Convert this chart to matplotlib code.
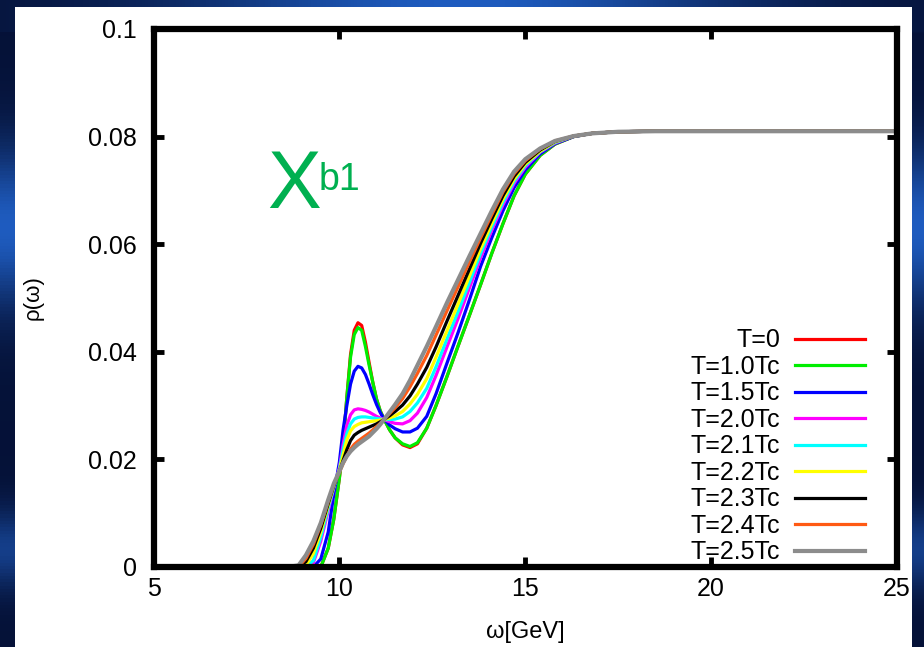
import numpy as np
import matplotlib
matplotlib.use("Agg")
import matplotlib.pyplot as plt
from matplotlib.patches import Rectangle

plt.rcParams["font.family"] = ["Liberation Sans", "DejaVu Sans"]

# omega grid [GeV] and spectral functions
omega = [8.6, 8.9, 9.1, 9.3, 9.5, 9.7, 9.85, 10.0, 10.1, 10.2, 10.3, 10.4, 10.5,
         10.6, 10.7, 10.8, 10.9, 11.0, 11.1, 11.2, 11.35, 11.5, 11.7, 11.9, 12.1,
         12.35, 12.6, 12.9, 13.2, 13.5, 13.8, 14.1, 14.4, 14.7, 15.0, 15.4, 15.8,
         16.3, 16.8, 17.5, 18.5, 20.0, 25.0]

rho_T0 = [0, 0, 0, 0, 0, 0.0035, 0.0089, 0.0165, 0.0225, 0.0315, 0.0395, 0.0440, 0.0454,
          0.0449, 0.0418, 0.0380, 0.0343, 0.0312, 0.0290, 0.0275, 0.0255, 0.0240, 0.0227,
          0.0222, 0.0229, 0.0258, 0.0300, 0.0355, 0.0412, 0.0468, 0.0525, 0.0583, 0.0638,
          0.0690, 0.0730, 0.0765, 0.0786, 0.0800, 0.0806, 0.0809, 0.0810, 0.0810, 0.0810]
rho_T10 = [0, 0, 0, 0, 0, 0.0035, 0.0089, 0.0165, 0.0225, 0.0315, 0.0390, 0.0432, 0.0445,
           0.0440, 0.0410, 0.0375, 0.0343, 0.0312, 0.0290, 0.0275, 0.0255, 0.0240, 0.0229,
           0.0224, 0.0231, 0.0258, 0.0300, 0.0355, 0.0412, 0.0468, 0.0525, 0.0583, 0.0638,
           0.0690, 0.0730, 0.0765, 0.0786, 0.0800, 0.0806, 0.0809, 0.0810, 0.0810, 0.0810]
rho_T15 = [0, 0, 0, 0, 0.0015, 0.0065, 0.0135, 0.0195, 0.0255, 0.0300, 0.0340, 0.0364, 0.0373,
           0.0370, 0.0358, 0.0340, 0.0320, 0.0302, 0.0287, 0.0275, 0.0264, 0.0257, 0.0251,
           0.0251, 0.0258, 0.0280, 0.0322, 0.0380, 0.0437, 0.0497, 0.0559, 0.0612, 0.0662,
           0.0705, 0.0738, 0.0768, 0.0787, 0.0800, 0.0806, 0.0809, 0.0810, 0.0810, 0.0810]
rho_T20 = [0, 0, 0, 0.0008, 0.0048, 0.0105, 0.0148, 0.0184, 0.0228, 0.0263, 0.0283, 0.0292, 0.0294,
           0.0293, 0.0291, 0.0288, 0.0284, 0.0280, 0.0277, 0.0274, 0.0270, 0.0267, 0.0266,
           0.0272, 0.0286, 0.0315, 0.0356, 0.0410, 0.0463, 0.0519, 0.0575, 0.0626, 0.0673,
           0.0713, 0.0743, 0.0771, 0.0788, 0.0801, 0.0806, 0.0809, 0.0810, 0.0810, 0.0810]
rho_T21 = [0, 0, 0, 0.0012, 0.0055, 0.0110, 0.0148, 0.0182, 0.0218, 0.0248, 0.0266, 0.0275, 0.0278,
           0.0279, 0.0279, 0.0278, 0.0277, 0.0276, 0.0275, 0.0274, 0.0274, 0.0275, 0.0279,
           0.0289, 0.0305, 0.0332, 0.0372, 0.0425, 0.0476, 0.0529, 0.0583, 0.0632, 0.0678,
           0.0717, 0.0746, 0.0772, 0.0789, 0.0801, 0.0806, 0.0809, 0.0810, 0.0810, 0.0810]
rho_T22 = [0, 0, 0.0003, 0.0025, 0.0065, 0.0115, 0.0150, 0.0180, 0.0208, 0.0236, 0.0253, 0.0261, 0.0265,
           0.0268, 0.0269, 0.0270, 0.0271, 0.0272, 0.0273, 0.0274, 0.0277, 0.0281, 0.0289,
           0.0303, 0.0321, 0.0350, 0.0390, 0.0440, 0.0490, 0.0541, 0.0592, 0.0639, 0.0684,
           0.0721, 0.0749, 0.0773, 0.0790, 0.0801, 0.0806, 0.0809, 0.0810, 0.0810, 0.0810]
rho_T23 = [0, 0, 0.0010, 0.0035, 0.0072, 0.0118, 0.0151, 0.0178, 0.0198, 0.0218, 0.0235, 0.0245, 0.0250,
           0.0254, 0.0257, 0.0260, 0.0263, 0.0266, 0.0270, 0.0274, 0.0281, 0.0289, 0.0301,
           0.0318, 0.0340, 0.0371, 0.0409, 0.0458, 0.0506, 0.0554, 0.0602, 0.0647, 0.0690,
           0.0726, 0.0752, 0.0775, 0.0791, 0.0801, 0.0806, 0.0809, 0.0810, 0.0810, 0.0810]
rho_T24 = [0, 0, 0.0016, 0.0042, 0.0078, 0.0122, 0.0153, 0.0176, 0.0192, 0.0206, 0.0219, 0.0228, 0.0234,
           0.0239, 0.0244, 0.0249, 0.0255, 0.0261, 0.0267, 0.0274, 0.0285, 0.0296, 0.0313,
           0.0335, 0.0360, 0.0393, 0.0431, 0.0477, 0.0522, 0.0567, 0.0612, 0.0655, 0.0697,
           0.0731, 0.0755, 0.0777, 0.0792, 0.0801, 0.0806, 0.0809, 0.0810, 0.0810, 0.0810]
rho_T25 = [0, 0.0003, 0.0022, 0.0048, 0.0082, 0.0125, 0.0155, 0.0178, 0.0194, 0.0206, 0.0215, 0.0222, 0.0228,
           0.0233, 0.0238, 0.0243, 0.0250, 0.0257, 0.0265, 0.0274, 0.0288, 0.0302, 0.0322,
           0.0347, 0.0375, 0.0410, 0.0447, 0.0492, 0.0535, 0.0578, 0.0620, 0.0662, 0.0702,
           0.0735, 0.0758, 0.0778, 0.0792, 0.0801, 0.0806, 0.0809, 0.0810, 0.0810, 0.0810]

labels = ["T=0", "T=1.0Tc", "T=1.5Tc", "T=2.0Tc", "T=2.1Tc",
          "T=2.2Tc", "T=2.3Tc", "T=2.4Tc", "T=2.5Tc"]
series = [rho_T0, rho_T10, rho_T15, rho_T20, rho_T21, rho_T22, rho_T23, rho_T24, rho_T25]
colors = ["#ff0000", "#00ee00", "#0000ff", "#ff00ff", "#00ffff",
          "#ffff00", "#000000", "#ff5a14", "#8c8c8c"]

fig = plt.figure(figsize=(9.24, 6.47), dpi=100)

# slide background (blue) + white panel
yy, xx = np.mgrid[0:1:200j, 0:1:300j]
glow = np.exp(-((xx - 0.5) / 0.3) ** 2) * (yy < 0.05) \
    + np.exp(-((yy - 0.35) / 0.12) ** 2) + 0.6 * np.exp(-((yy - 0.85) / 0.06) ** 2)
glow = np.clip(glow, 0, 1)
dark = np.array([0.02, 0.07, 0.22])
light = np.array([0.12, 0.36, 0.75])
img = dark + glow[..., None] * (light - dark)

bg = fig.add_axes([0, 0, 1, 1], zorder=-10)
bg.imshow(img, extent=[0, 1, 0, 1], aspect="auto", origin="upper")
bg.set_axis_off()
fig.patches.append(Rectangle((15 / 924, 0), (912 - 15) / 924, (647 - 7) / 647,
                             transform=fig.transFigure, facecolor="white",
                             edgecolor="none", zorder=-5))

ax = fig.add_axes([153.5 / 924, 80 / 647, 743.5 / 924, 538 / 647])
ax.set_facecolor("white")

for rho, lab, col in zip(series, labels, colors):
    lw = 3.0 if col == "#8c8c8c" else 2.3
    ax.plot(omega, rho, color=col, lw=lw, label=lab, solid_joinstyle="round")

ax.set_xlim(5, 25)
ax.set_ylim(0, 0.1)
ax.set_xticks([5, 10, 15, 20, 25])
ax.set_yticks([0, 0.02, 0.04, 0.06, 0.08, 0.1])
ax.set_yticklabels(["0", "0.02", "0.04", "0.06", "0.08", "0.1"])
for s in ax.spines.values():
    s.set_linewidth(4.5)
ax.tick_params(direction="in", length=7, width=3.5, top=True, right=True,
               labelsize=18, colors="black")
ax.tick_params(axis="x", pad=7)
ax.tick_params(axis="y", pad=12)

ax.set_xlabel("ω[GeV]", fontsize=17)
ax.set_ylabel("ρ(ω)", fontsize=16)
ax.xaxis.set_label_coords(0.5, -0.1)
ax.yaxis.set_label_coords(-0.148, 0.5)

leg = ax.legend(loc="lower right", bbox_to_anchor=(0.957, 0.005), frameon=False,
                markerfirst=False, fontsize=18, handlelength=2.8, handletextpad=0.6,
                labelspacing=0.1, borderaxespad=0, borderpad=0)

fig.text(267 / 924, 1 - 208 / 647, "Χ", fontsize=58, color="#00b050",
         family=["Liberation Sans Narrow", "Liberation Sans", "DejaVu Sans"])
fig.text(319 / 924, 1 - 190 / 647, "b1", fontsize=27, color="#00b050")

# right edge of the slide overlaps the last tick label
edge = fig.add_axes([912 / 924, 0, 12 / 924, 1], zorder=10)
edge.imshow(img[:, -5:], extent=[0, 1, 0, 1], aspect="auto", origin="upper")
edge.set_axis_off()

fig.savefig("out.png", dpi=100)
